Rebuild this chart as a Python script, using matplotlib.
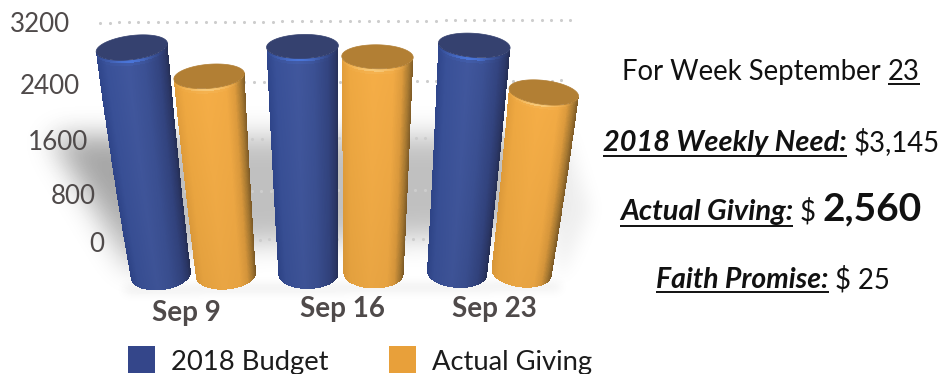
import numpy as np
import matplotlib
matplotlib.use("Agg")
import matplotlib.pyplot as plt
from matplotlib.path import Path
from matplotlib.colors import to_rgb

plt.rcParams['font.family'] = ['Lato', 'DejaVu Sans']

categories = ['Sep 9', 'Sep 16', 'Sep 23']
budget = [3145, 3145, 3145]
actual = [2790, 3015, 2560]
series_names = ['2018 Budget', 'Actual Giving']
tick_values = [0, 800, 1600, 2400, 3200]
tick_labels = ['0', '800', '1600', '2400', '3200']

W, H = 942, 374
TEXT_GREY = '#4f4a4a'
TEXT_DARK = '#1c1c1c'

# perspective of the 3d chart, fitted by eye on the reference (pixels)
VANISH_X = 347
A, B = 0.0588, 4.27e-5
FRONT = 1.067
GROW = 0.157 / 3145
bar_base_x = [[161, 308.5, 457], [226, 373.5, 521.5]]


def wall_height(v):
    return A * v / (1 - B * v)


def wall_y(v):
    return 240 - wall_height(v)


def bar_scale(v):
    return 1 + GROW * v


blue = dict(stops=[(-1, '#2e4488'), (-0.75, '#384f95'), (-0.15, '#3f559a'), (0.3, '#3a4f91'),
                   (0.7, '#32437e'), (0.9, '#2b3767'), (1, '#252e53')],
            top='#35416f', glow='#4c7ce6')
orange = dict(stops=[(-1, '#dd9a3a'), (-0.75, '#eaa540'), (-0.1, '#f0aa45'), (0.45, '#eda743'),
                     (0.7, '#d9983c'), (0.88, '#a67831'), (1, '#7d5a26')],
              top='#b27f34', glow='#f8cf83')


def draw_bar(ax, xb, v, style):
    yb = 275.5 - 0.0075 * (xb - 161)
    s_top = bar_scale(v)
    x_top = VANISH_X + (xb - VANISH_X) * s_top
    y_top = yb - FRONT * wall_height(v)
    d = np.array([xb - x_top, yb - y_top])
    d = d / np.hypot(*d)
    p = np.array([d[1], -d[0]])

    u = np.sin(np.linspace(-np.pi / 2, np.pi / 2, 141))
    t = np.linspace(0, 1, 91)
    U, T = np.meshgrid(u, t)
    vals = v * T
    S = bar_scale(vals)
    cx = VANISH_X + (xb - VANISH_X) * S
    cy = yb - FRONT * wall_height(vals)
    hw = 30 * S * (1 + 0.035 * T)
    minor = 14.5 - 2.5 * T
    front = np.sqrt(np.clip(1 - U ** 2, 0, 1))
    X = cx + hw * U * p[0] + minor * front * d[0]
    Y = cy + hw * U * p[1] + minor * front * d[1]

    # colour per quad
    um = (u[:-1] + u[1:]) / 2
    tm = (t[:-1] + t[1:]) / 2
    pos = [a for a, _ in style['stops']]
    cols = np.array([to_rgb(c) for _, c in style['stops']])
    row = np.stack([np.interp(um, pos, cols[:, i]) for i in range(3)], axis=1)
    rgb = np.repeat(row[None, :, :], len(tm), axis=0)
    # slightly lighter up the bar, rim highlight at the top edge
    rgb = rgb * (0.97 + 0.05 * tm[:, None, None])
    glow = np.exp(-((1 - tm[:, None]) / 0.012) ** 2) * np.exp(-((um[None, :] + 0.1) / 0.55) ** 2)
    rgb = rgb + (np.array(to_rgb(style['glow'])) - rgb) * glow[:, :, None]
    ax.pcolormesh(X, Y, np.clip(rgb, 0, 1), shading='flat', zorder=3)

    th = np.linspace(0, 2 * np.pi, 120)
    ew = 30 * s_top * 1.035
    ex = x_top + ew * np.cos(th) * p[0] + 12 * np.sin(th) * d[0]
    ey = y_top + ew * np.cos(th) * p[1] + 12 * np.sin(th) * d[1]
    ax.fill(ex, ey, color=style['top'], lw=0.5, zorder=4)


def blurred_shadow(ax, poly, sigma, alpha):
    yy, xx = np.mgrid[0:H, 0:W]
    pts = np.column_stack([xx.ravel() + 0.5, yy.ravel() + 0.5])
    mask = Path(poly).contains_points(pts).reshape(H, W).astype(float)
    r = int(3 * sigma)
    k = np.exp(-0.5 * (np.arange(-r, r + 1) / sigma) ** 2)
    k = k / k.sum()
    mask = np.apply_along_axis(lambda m: np.convolve(m, k, mode='same'), 0, mask)
    mask = np.apply_along_axis(lambda m: np.convolve(m, k, mode='same'), 1, mask)
    img = np.zeros((H, W, 4))
    img[:, :, 3] = mask * alpha
    ax.imshow(img, extent=(0, W, H, 0), zorder=1, interpolation='bilinear', aspect='auto')


fig = plt.figure(figsize=(W / 100, H / 100), dpi=100)
ax = fig.add_axes([0, 0, 1, 1])

blurred_shadow(ax, [(48, 136), (540, 136), (545, 215), (480, 235), (200, 245), (130, 270)], 14, 0.25)
blurred_shadow(ax, [(55, 138), (130, 138), (140, 250)], 13, 0.14)
blurred_shadow(ax, [(125, 286), (560, 283), (560, 290), (125, 293)], 5, 0.08)
blurred_shadow(ax, [(540, 130), (565, 130), (590, 210), (560, 280)], 9, 0.07)
ax.set_xlim(0, W)
ax.set_ylim(H, 0)
ax.axis('off')

# dotted back wall lines
grid_left = [135, 127, 118, 110, 100]
grid_right = [490, 555, 558, 563, 573]
for v, x0, x1 in zip(tick_values, grid_left, grid_right):
    xs = np.arange(x0, x1, 9.6)
    ys = wall_y(v) + 0.5 - 0.006 * (xs - 100)
    ax.scatter(xs, ys, s=5, color='#cdcdcd', linewidths=0, zorder=2)

for i in range(len(categories)):
    draw_bar(ax, bar_base_x[0][i], budget[i], blue)
    draw_bar(ax, bar_base_x[1][i], actual[i], orange)

# axis labels
tick_right = [104, 96, 88, 80, 70]
tick_y = [242, 194, 140, 84, 22]
for lab, x, y in zip(tick_labels, tick_right, tick_y):
    ax.text(x, y, lab, ha='right', va='center_baseline', fontsize=18.7, color=TEXT_GREY, zorder=5)

cat_x = [186, 342, 494]
cat_y = [310, 306, 307]
for lab, x, y in zip(categories, cat_x, cat_y):
    ax.text(x, y, lab, ha='center', va='center_baseline', fontsize=20, fontweight='bold',
            color=TEXT_GREY, zorder=5)

# legend
ax.fill([128, 155, 155, 128], [346, 346, 373, 373], color='#34468a', lw=0, zorder=5)
ax.fill([389, 416, 416, 389], [346, 346, 373, 373], color='#e8a03a', lw=0, zorder=5)
ax.text(171, 360, series_names[0], va='center_baseline', fontsize=19.7, color=TEXT_DARK)
ax.text(432, 360, series_names[1], va='center_baseline', fontsize=19.7, color=TEXT_DARK)


# right hand summary
def label(x, y, s, size=19.8, line_y=None, **kw):
    t = ax.text(x, y, s, va='baseline', fontsize=size, color='#111111', **kw)
    if line_y is not None:
        bb = t.get_window_extent(fig.canvas.get_renderer())
        ax.plot([bb.x0, bb.x1], [line_y, line_y], color='#111111', lw=1.4, solid_capstyle='butt')


label(622, 80, 'For Week September')
label(888, 80, '23', line_y=83.5)
label(603, 151, '2018 Weekly Need:', size=20.8, fontweight='bold', style='italic', line_y=155.5)
label(854, 151, '$3,145')
label(620, 220, 'Actual Giving:', size=21, fontweight='bold', style='italic', line_y=225.5)
label(800, 220, '$')
label(823, 220, '2,560', size=28, fontweight='bold')
label(656, 288, 'Faith Promise:', size=20.4, fontweight='bold', style='italic', line_y=292)
label(835, 288, '$ 25')

fig.savefig('out.png', dpi=100)
